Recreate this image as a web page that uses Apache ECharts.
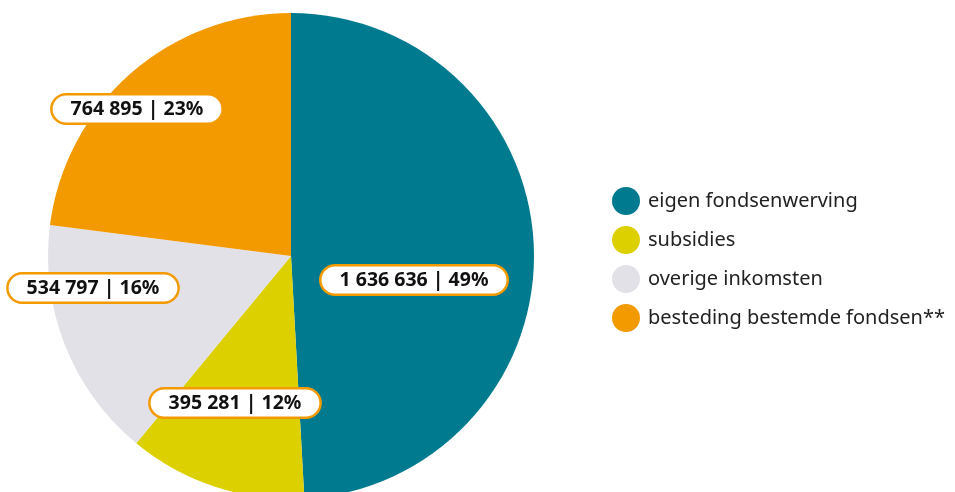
<!DOCTYPE html>
<html>
<head>
<meta charset="utf-8">
<script src="https://cdn.jsdelivr.net/npm/echarts@6/dist/echarts.min.js"></script>
<style>
  html, body { margin: 0; padding: 0; background: #fff; }
  #chart { width: 955px; height: 492px; }
</style>
</head>
<body>
<div id="chart"></div>
<script>
// Data
const categories = ['eigen fondsenwerving', 'subsidies', 'overige inkomsten', 'besteding bestemde fondsen**'];
const amounts = [1636636, 395281, 534797, 764895];
const colors = ['#007a8f', '#ddd000', '#e2e1e8', '#f39a00'];

// label box centres (px), one per slice
const labelPos = [[414, 280], [235, 403], [93, 288], [137, 109]];

const fmt = (n) => String(n).replace(/\B(?=(\d{3})+(?!\d))/g, ' ');

var chart = echarts.init(document.getElementById('chart'), null, { renderer: 'canvas' });

chart.setOption({
  animation: false,
  color: colors,
  legend: {
    orient: 'vertical',
    left: 607,
    top: 182,
    icon: 'circle',
    itemWidth: 30,
    itemHeight: 28,
    itemGap: 11,
    textStyle: { fontFamily: 'Noto Sans', fontSize: 20, color: '#222', padding: [0, 0, 0, 2] },
    data: categories
  },
  series: [{
    type: 'pie',
    center: [291, 256],
    radius: [0, 243],
    startAngle: 90,
    clockwise: true,
    silent: true,
    itemStyle: { borderWidth: 0 },
    labelLine: { show: false },
    label: {
      show: true,
      position: 'inside',
      formatter: (p) => fmt(p.value) + ' | ' + Math.round(p.percent) + '%',
      fontFamily: 'Noto Sans',
      fontWeight: 'bold',
      fontSize: 19.5,
      color: '#111',
      backgroundColor: '#fff',
      borderColor: '#f39a00',
      borderWidth: 2.5,
      borderRadius: 16,
      padding: [4, 18, 3, 18]
    },
    labelLayout: (params) => ({
      x: labelPos[params.dataIndex][0],
      y: labelPos[params.dataIndex][1],
      align: 'center',
      verticalAlign: 'middle'
    }),
    data: categories.map((c, i) => ({ name: c, value: amounts[i] }))
  }]
});
</script>
</body>
</html>
